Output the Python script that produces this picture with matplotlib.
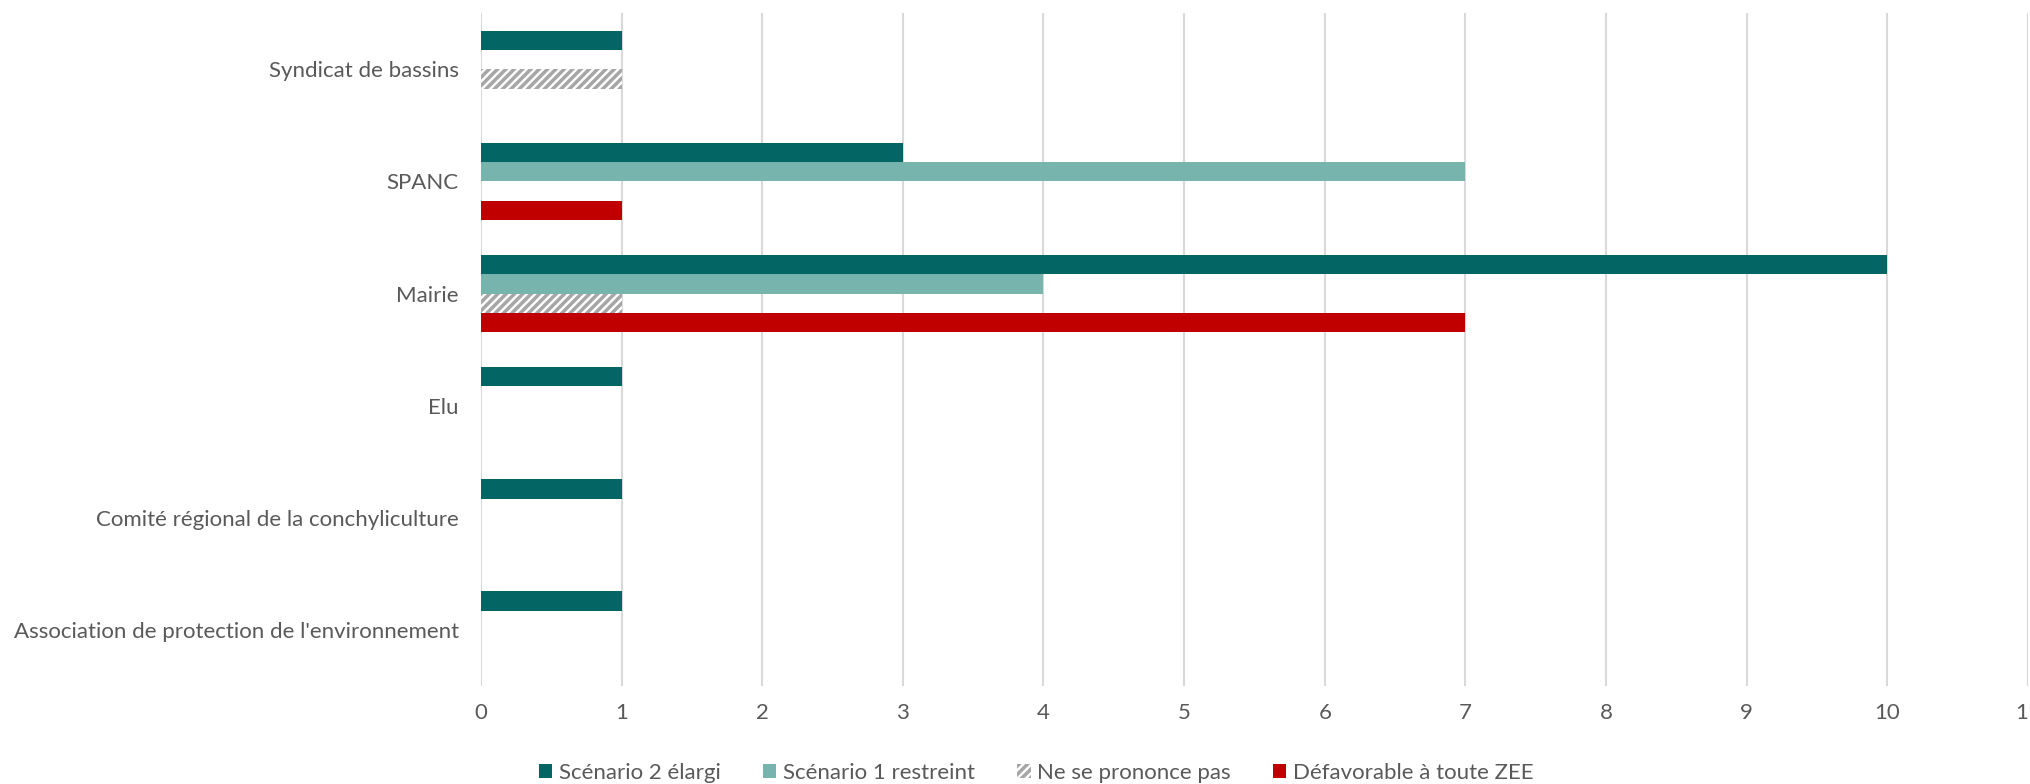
import matplotlib
matplotlib.use("Agg")
import matplotlib.pyplot as plt
import numpy as np

plt.rcParams['font.family'] = ['Lato', 'DejaVu Sans']
plt.rcParams['hatch.linewidth'] = 2.5

categories = ["Association de protection de l'environnement",
              "Comité régional de la conchyliculture",
              "Elu", "Mairie", "SPANC", "Syndicat de bassins"]
series_names = ["Scénario 2 élargi", "Scénario 1 restreint",
                "Ne se prononce pas", "Défavorable à toute ZEE"]
scenario2 = [1, 1, 1, 10, 3, 1]
scenario1 = [0, 0, 0, 4, 7, 0]
ne_se_prononce = [0, 0, 0, 1, 0, 1]
defavorable = [0, 0, 0, 7, 1, 0]

colors = ['#036564', '#78B4AE', '#A6A6A6', '#C00000']
text_color = '#595959'

fig = plt.figure(figsize=(20.31, 7.84), dpi=100)
ax = fig.add_axes([0.2368, 0.125, 0.7617, 0.858])

y = np.arange(len(categories))
h = 0.172
offsets = [1.5 * h, 0.5 * h, -0.5 * h, -1.5 * h]
data = [scenario2, scenario1, ne_se_prononce, defavorable]

for i, (vals, name) in enumerate(zip(data, series_names)):
    if i == 2:
        ax.barh(y + offsets[i], vals, height=h, facecolor='white',
                edgecolor=colors[i], hatch='////', linewidth=0, label=name, zorder=3)
    else:
        ax.barh(y + offsets[i], vals, height=h, color=colors[i],
                label=name, zorder=3)

ax.set_xlim(0, 11)
ax.set_ylim(-0.5, len(categories) - 0.5)
ax.set_xticks(range(0, 12))
ax.set_yticks(y)
ax.set_yticklabels(categories)
ax.grid(axis='x', color='#D9D9D9', linewidth=1.5, zorder=0)
for s in ax.spines.values():
    s.set_visible(False)
ax.tick_params(axis='both', length=0, labelsize=16, colors=text_color, pad=12)
ax.tick_params(axis='y', pad=16)

leg = ax.legend(loc='upper center', bbox_to_anchor=(0.359, -0.085), ncol=4,
                frameon=False, fontsize=16, handlelength=0.6, handleheight=0.6,
                handletextpad=0.3, columnspacing=1.9)
for t in leg.get_texts():
    t.set_color(text_color)

fig.savefig("out.png", dpi=100)
